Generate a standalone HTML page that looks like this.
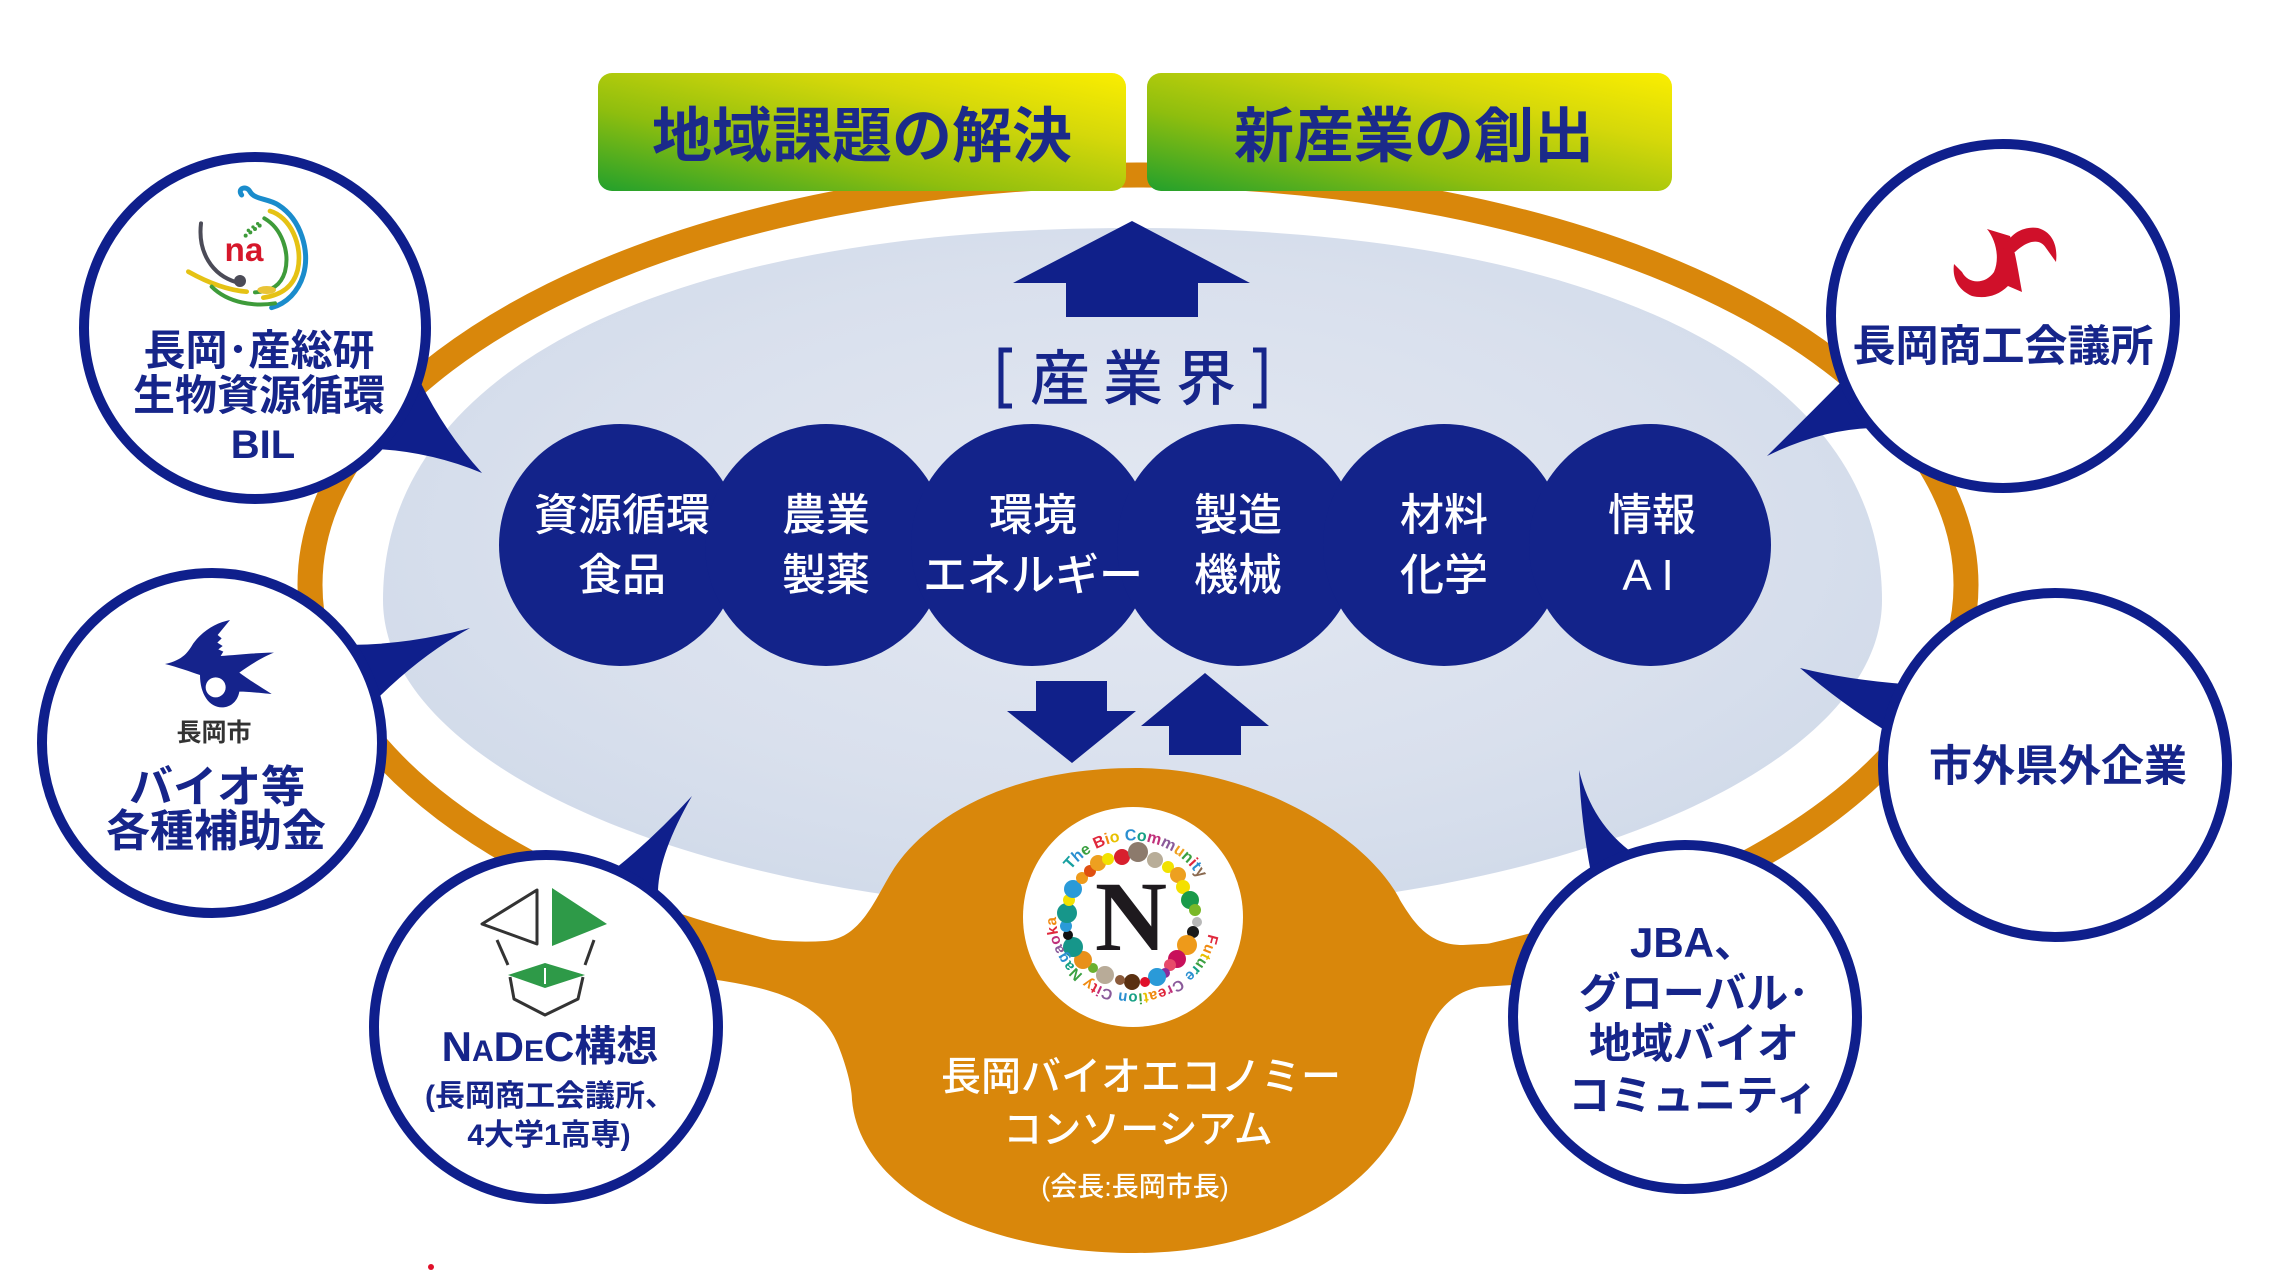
<!DOCTYPE html>
<html>
<head>
<meta charset="utf-8">
<style>
html,body{margin:0;padding:0;background:#fff;width:2292px;height:1272px;overflow:hidden;}
svg{display:block;}
text{font-family:"Liberation Sans","Noto Sans CJK JP",sans-serif;}
</style>
</head>
<body>
<svg width="2292" height="1272" viewBox="0 0 2292 1272" xmlns="http://www.w3.org/2000/svg">
<defs>
  <linearGradient id="gb" x1="0" y1="1" x2="1" y2="0">
    <stop offset="0" stop-color="#22a02c"/>
    <stop offset="0.35" stop-color="#8fbe0e"/>
    <stop offset="0.7" stop-color="#d5d80a"/>
    <stop offset="1" stop-color="#fbee00"/>
  </linearGradient>
  <radialGradient id="lb" cx="50%" cy="45%" r="55%">
    <stop offset="0" stop-color="#e3e8f2"/>
    <stop offset="0.7" stop-color="#d9e0ed"/>
    <stop offset="1" stop-color="#d2dbea"/>
  </radialGradient>
  <path id="ncirc" d="M 1070.7 870.1 A 78 78 0 0 1 1195.3 963.9 A 78 78 0 0 1 1070.7 870.1"/>
</defs>

<rect width="2292" height="1272" fill="#fff"/>

<!-- orange ring -->
<ellipse cx="1138" cy="585" rx="828" ry="410" fill="none" stroke="#d9870b" stroke-width="25"/>

<!-- light blue field -->
<path d="M 1132 228 C 1597 228 1882 369 1882 600 C 1882 772 1544 912 1132 912 C 720 912 383 772 383 600 C 383 369 668 228 1132 228 Z" fill="url(#lb)"/>

<!-- top boxes -->
<rect x="598" y="73" width="528" height="118" rx="14" fill="url(#gb)"/>
<rect x="1147" y="73" width="525" height="118" rx="14" fill="url(#gb)"/>
<text x="862" y="157" font-size="60" font-weight="bold" fill="#1b2a8a" text-anchor="middle">地域課題の解決</text>
<text x="1414" y="157" font-size="60" font-weight="bold" fill="#1b2a8a" text-anchor="middle">新産業の創出</text>

<!-- top arrow -->
<polygon points="1132,221 1250,283 1198,283 1198,317 1066,317 1066,283 1013,283" fill="#10208a"/>

<!-- [産業界] -->
<path d="M 1012 350 H 1001 V 406 H 1012" fill="none" stroke="#16258a" stroke-width="5"/>
<path d="M 1253 350 H 1264 V 406 H 1253" fill="none" stroke="#16258a" stroke-width="5"/>
<text x="1060" y="400" font-size="60" font-weight="500" fill="#16258a" text-anchor="middle">産</text>
<text x="1133" y="400" font-size="60" font-weight="500" fill="#16258a" text-anchor="middle">業</text>
<text x="1206" y="400" font-size="60" font-weight="500" fill="#16258a" text-anchor="middle">界</text>

<!-- consortium blob with necks -->
<path d="M 1136 768 C 1010 768 935 815 900 860 C 878 888 866 938 825 941 C 780 944 730 936 690 924 L 640 920 L 640 985 L 717 980 C 770 988 820 1000 838 1045 C 848 1070 852 1090 852 1100 C 860 1190 980 1253 1136 1253 C 1280 1253 1400 1180 1415 1080 C 1422 1040 1435 995 1480 987 L 1560 982 L 1560 940 L 1463 945 C 1430 945 1415 925 1400 900 C 1370 840 1260 768 1136 768 Z" fill="#d9870b"/>

<!-- middle arrows -->
<polygon points="1036,681 1107,681 1107,711 1136,711 1072,763 1007,711 1036,711" fill="#10208a"/>
<polygon points="1205,673 1269,726 1241,726 1241,755 1169,755 1169,726 1141,726" fill="#10208a"/>

<!-- row circles -->
<g fill="#13238a">
  <circle cx="620" cy="545" r="121"/>
  <circle cx="826" cy="545" r="121"/>
  <circle cx="1032" cy="545" r="121"/>
  <circle cx="1238" cy="545" r="121"/>
  <circle cx="1444" cy="545" r="121"/>
  <circle cx="1650" cy="545" r="121"/>
</g>
<g font-size="44" font-weight="500" fill="#fff" text-anchor="middle">
  <text x="622" y="530">資源循環</text><text x="622" y="590">食品</text>
  <text x="826" y="530">農業</text><text x="826" y="590">製薬</text>
  <text x="1033" y="530">環境</text><text x="1033" y="590">エネルギー</text>
  <text x="1238" y="530">製造</text><text x="1238" y="590">機械</text>
  <text x="1444" y="530">材料</text><text x="1444" y="590">化学</text>
  <text x="1652" y="530">情報</text><text x="1648" y="590">A I</text>
</g>

<!-- N logo -->
<circle cx="1133" cy="917" r="110" fill="#fff"/>
<g>
  <circle cx="1122" cy="857" r="8" fill="#d8202e"/>
  <circle cx="1138" cy="852" r="10" fill="#8c7a6c"/>
  <circle cx="1155" cy="860" r="8" fill="#b8ad98"/>
  <circle cx="1168" cy="867" r="6" fill="#f2e200"/>
  <circle cx="1178" cy="875" r="8" fill="#eda020"/>
  <circle cx="1183" cy="887" r="7" fill="#f4e000"/>
  <circle cx="1190" cy="900" r="9" fill="#1a9a4a"/>
  <circle cx="1195" cy="910" r="6" fill="#7ab828"/>
  <circle cx="1197" cy="922" r="5" fill="#b8b8b8"/>
  <circle cx="1193" cy="932" r="6" fill="#1a1a1a"/>
  <circle cx="1187" cy="945" r="10" fill="#ee9a1a"/>
  <circle cx="1177" cy="959" r="9" fill="#c8105a"/>
  <circle cx="1170" cy="965" r="6" fill="#e84a6a"/>
  <circle cx="1165" cy="973" r="5" fill="#8a2a9a"/>
  <circle cx="1157" cy="977" r="9" fill="#2a9ad8"/>
  <circle cx="1145" cy="982" r="5" fill="#e0102a"/>
  <circle cx="1132" cy="982" r="8" fill="#5a3010"/>
  <circle cx="1120" cy="980" r="5" fill="#8a5a3a"/>
  <circle cx="1105" cy="975" r="9" fill="#b8ab98"/>
  <circle cx="1093" cy="968" r="5" fill="#6ab030"/>
  <circle cx="1083" cy="960" r="9" fill="#e8901a"/>
  <circle cx="1073" cy="947" r="10" fill="#16968a"/>
  <circle cx="1068" cy="935" r="5" fill="#111"/>
  <circle cx="1066" cy="926" r="6" fill="#2a9ad8"/>
  <circle cx="1067" cy="913" r="10" fill="#16968a"/>
  <circle cx="1069" cy="900" r="6" fill="#f2e200"/>
  <circle cx="1073" cy="889" r="9" fill="#2a9ad8"/>
  <circle cx="1082" cy="878" r="6" fill="#ee9a1a"/>
  <circle cx="1090" cy="871" r="6" fill="#e05010"/>
  <circle cx="1098" cy="863" r="8" fill="#eda020"/>
  <circle cx="1108" cy="859" r="6" fill="#f2e200"/>
</g>
<text x="1131" y="950" font-size="100" font-weight="bold" fill="#1e1a1e" text-anchor="middle" style="font-family:'Liberation Serif',serif">N</text>
<text font-size="16" font-weight="bold"><textPath href="#ncirc" startOffset="0"><tspan fill="#17a0a0">T</tspan><tspan fill="#2a8fd0">h</tspan><tspan fill="#3aa040">e</tspan> <tspan fill="#e0283c">B</tspan><tspan fill="#f08a10">i</tspan><tspan fill="#e8c000">o</tspan> <tspan fill="#2a8fd0">C</tspan><tspan fill="#16a085">o</tspan><tspan fill="#c0307a">m</tspan><tspan fill="#8a5a9a">m</tspan><tspan fill="#f0a020">u</tspan><tspan fill="#3aa040">n</tspan><tspan fill="#e0283c">i</tspan><tspan fill="#2a8fd0">t</tspan><tspan fill="#8a6a50">y</tspan></textPath></text>
<text font-size="15" font-weight="bold" letter-spacing="0.5"><textPath href="#ncirc" startOffset="208"><tspan fill="#e0283c">F</tspan><tspan fill="#f08a10">u</tspan><tspan fill="#e8c000">t</tspan><tspan fill="#3aa040">u</tspan><tspan fill="#16a085">r</tspan><tspan fill="#2a8fd0">e</tspan> <tspan fill="#8a5a9a">C</tspan><tspan fill="#c0307a">r</tspan><tspan fill="#e0283c">e</tspan><tspan fill="#f08a10">a</tspan><tspan fill="#e8c000">t</tspan><tspan fill="#3aa040">i</tspan><tspan fill="#16a085">o</tspan><tspan fill="#2a8fd0">n</tspan> <tspan fill="#8a5a9a">C</tspan><tspan fill="#c0307a">i</tspan><tspan fill="#e0283c">t</tspan><tspan fill="#f08a10">y</tspan> <tspan fill="#3aa040">N</tspan><tspan fill="#16a085">a</tspan><tspan fill="#2a8fd0">g</tspan><tspan fill="#8a5a9a">a</tspan><tspan fill="#c0307a">o</tspan><tspan fill="#e0283c">k</tspan><tspan fill="#f08a10">a</tspan></textPath></text>

<!-- consortium text -->
<g fill="#fff" font-weight="500" text-anchor="middle">
  <text x="1141" y="1090" font-size="40">長岡バイオエコノミー</text>
  <text x="1138" y="1143" font-size="39">コンソーシアム</text>
  <text x="1135" y="1196" font-size="27">(会長:長岡市長)</text>
</g>

<!-- bubble tails -->
<g fill="#0f1f8c">
  <path d="M 416.5 374 Q 442 429 482 473 Q 429 451 371.7 448.8 Z"/>
  <path d="M 346 645 Q 408 645 470 628 Q 418 657 373 703 Z"/>
  <path d="M 616 868 Q 653.5 838 692 796 Q 657 857 658 895 Z"/>
  <path d="M 1843 380 Q 1808 415.5 1767 456 Q 1819.5 430 1871 428 Z"/>
  <path d="M 1904 684 Q 1846.5 679.5 1800 668 Q 1841.5 703.5 1886 731 Z"/>
  <path d="M 1591 873 Q 1581 821.5 1579 770 Q 1591.5 823.5 1634 854 Z"/>
</g>

<!-- bubble circles -->
<g fill="#fff" stroke="#0f1f8c" stroke-width="10">
  <circle cx="255" cy="328" r="171"/>
  <circle cx="212" cy="743" r="170"/>
  <circle cx="546" cy="1027" r="172"/>
  <circle cx="2003" cy="316" r="172"/>
  <circle cx="2055" cy="765" r="172"/>
  <circle cx="1685" cy="1017" r="172"/>
</g>

<!-- BIL logo -->
<g transform="translate(175,175) scale(0.3333)" fill="none" stroke-linecap="round">
  <path d="M200 60 C185 40 215 30 225 50 C240 75 280 70 310 90 C380 135 405 230 385 300 C370 350 335 385 290 398" stroke="#1a8ccc" stroke-width="15"/>
  <path d="M285 108 C345 125 385 210 368 285 C355 335 320 360 265 368" stroke="#e5c214" stroke-width="14"/>
  <path d="M268 130 C320 160 345 230 330 290 C318 330 290 350 240 352" stroke="#3e9b3a" stroke-width="12"/>
  <path d="M40 290 C90 318 150 345 215 350" stroke="#e5c214" stroke-width="14"/>
  <path d="M110 335 C160 385 240 395 300 385" stroke="#3e9b3a" stroke-width="12"/>
  <path d="M78 145 C68 230 110 300 185 322" stroke="#4b4b57" stroke-width="12"/>
  <circle cx="195" cy="318" r="18" fill="#4b4b57" stroke="none"/>
  <ellipse cx="275" cy="345" rx="28" ry="12" fill="#e9c437" stroke="none"/>
  <g fill="#3e9b3a" stroke="none">
    <circle cx="212" cy="182" r="6"/><circle cx="226" cy="172" r="6"/><circle cx="240" cy="162" r="6"/><circle cx="254" cy="152" r="6"/>
    <circle cx="220" cy="166" r="5"/><circle cx="234" cy="156" r="5"/><circle cx="248" cy="146" r="5"/>
  </g>
  <text x="207" y="258" font-size="100" font-weight="bold" fill="#d6172b" stroke="none" text-anchor="middle">na</text>
</g>

<!-- Nagaoka city bird -->
<g transform="translate(150,610) scale(0.3333)">
  <path d="M240 30 C200 38 160 60 130 100 C115 125 100 150 45 162 C85 172 120 185 150 195 C150 255 180 295 220 292 C250 290 265 265 268 245 C300 245 340 250 365 252 C330 230 290 205 268 188 C300 165 340 140 372 128 C320 128 260 135 212 138 L220 125 L205 118 L218 108 L202 98 L215 85 L203 75 C215 60 228 45 240 30 Z" fill="#15238c"/>
  <circle cx="197" cy="232" r="30" fill="#fff"/>
</g>

<!-- NADeC logo -->
<g stroke="#333" stroke-width="3" fill="none" stroke-linejoin="round">
  <polygon points="537,890 482,924 537,944"/>
  <line x1="497" y1="940" x2="508" y2="965"/>
  <line x1="594" y1="940" x2="585" y2="965"/>
  <polyline points="510,977 514,999 545,1015 578,999 583,977"/>
</g>
<polygon points="552,888 607,924 552,946" fill="#2e9a48"/>
<polygon points="545,963 508,975 545,988 585,975" fill="#2e9a48"/>
<line x1="545" y1="968" x2="545" y2="984" stroke="#fff" stroke-width="2"/>

<!-- Chamber of commerce logo -->
<g fill="#d0102a">
  <path d="M 1987 229 L 2010 236 C 2015 250 2018 270 2022 292 L 2008 286 C 1998 296 1985 299 1972 296 C 1958 290 1952 278 1954 264 L 1962 272 C 1968 284 1985 285 1994 272 C 2000 258 1996 240 1987 229 Z"/>
  <path d="M 2003 250 C 2010 232 2025 226 2038 228 C 2052 232 2058 245 2056 262 L 2046 248 C 2040 238 2028 240 2015 252 Z"/>
</g>

<!-- bubble texts -->
<g fill="#16258a" font-weight="bold" text-anchor="middle">
  <text x="259" y="365" font-size="42">長岡･産総研</text>
  <text x="259" y="410" font-size="42">生物資源循環</text>
  <text x="263" y="458" font-size="40">BIL</text>

  <text x="217" y="802" font-size="44">バイオ等</text>
  <text x="216" y="846" font-size="44">各種補助金</text>

  <text x="550" y="1061" font-size="42">N<tspan font-size="30">A</tspan>D<tspan font-size="30">E</tspan>C構想</text>
  <text x="550" y="1106" font-size="30">(長岡商工会議所、</text>
  <text x="549" y="1145" font-size="30">4大学1高専)</text>

  <text x="2003" y="361" font-size="43">長岡商工会議所</text>
  <text x="2058" y="781" font-size="43">市外県外企業</text>

  <text x="1693" y="957" font-size="42">JBA、</text>
  <text x="1694" y="1008" font-size="42">グローバル･</text>
  <text x="1694" y="1058" font-size="42">地域バイオ</text>
  <text x="1693" y="1110" font-size="42">コミュニティ</text>
</g>
<text x="214" y="741" font-size="25" font-weight="bold" fill="#333" text-anchor="middle">長岡市</text>

<!-- small red dot -->
<circle cx="431" cy="1267" r="3" fill="#e0102a"/>
</svg>
</body>
</html>
